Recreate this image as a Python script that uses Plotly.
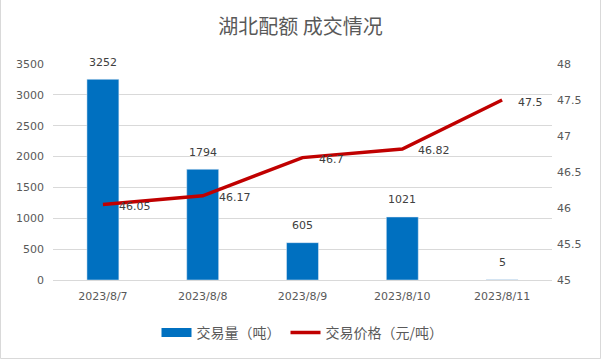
import plotly.graph_objects as go

dates = ["2023/8/7", "2023/8/8", "2023/8/9", "2023/8/10", "2023/8/11"]
volume = [3252, 1794, 605, 1021, 5]
price = [46.05, 46.17, 46.7, 46.82, 47.5]

W, H = 601, 359
L, R, T, B = 53, 49, 64, 79
pw, ph = W - L - R, H - T - B

BLUE, RED = "#0070C0", "#C00000"

fig = go.Figure()
fig.add_trace(go.Bar(
    x=dates, y=volume, name="交易量（吨）", marker_color=BLUE, showlegend=False,
))
# legend swatch for bars (rectangle-like)
fig.add_trace(go.Scatter(
    x=[None], y=[None], name="交易量（吨）", mode="lines",
    line=dict(color=BLUE, width=9),
))
fig.add_trace(go.Scatter(
    x=dates, y=price, name="交易价格（元/吨）", yaxis="y2", mode="lines",
    line=dict(color=RED, width=3.5),
))

tick_font = dict(family="DejaVu Sans, sans-serif", size=11, color="#595959")
lab_font = dict(family="DejaVu Sans, sans-serif", size=11, color="#404040")

for d, v in zip(dates, volume):
    fig.add_annotation(x=d, y=v, xref="x", yref="y", text=str(v), showarrow=False,
                       yanchor="middle", yshift=17, font=lab_font)
for d, p in zip(dates, price):
    fig.add_annotation(x=d, y=p, xref="x", yref="y2", text=str(p), showarrow=False,
                       xanchor="left", xshift=14, yshift=-2, font=lab_font)

fig.update_layout(
    width=W, height=H,
    margin=dict(l=L, r=R, t=T, b=B, autoexpand=False),
    paper_bgcolor="white", plot_bgcolor="white",
    font=dict(family="DejaVu Sans, sans-serif", color="#595959", size=11),
    title=dict(text="湖北配额 成交情况", x=0.5, xanchor="center", y=1 - 27 / H, yanchor="middle",
               font=dict(size=20, color="#595959", family="Noto Sans CJK SC, sans-serif")),
    bargap=0.68,
    xaxis=dict(showgrid=False, showline=True, linecolor="#D9D9D9", ticks="",
               tickfont=tick_font, automargin=False, ticklabelstandoff=6),
    yaxis=dict(range=[0, 3500], dtick=500, showgrid=True, gridcolor="#D9D9D9",
               zeroline=False, tickfont=tick_font, ticklabelstandoff=8, automargin=False),
    yaxis2=dict(range=[45, 48], dtick=0.5, overlaying="y", side="right", showgrid=False,
                zeroline=False, tickfont=tick_font, automargin=False, ticklabelstandoff=4),
    legend=dict(orientation="h", x=0.5, xanchor="center", y=-(333 - 280) / ph, yanchor="middle",
                itemwidth=30, tracegroupgap=0,
                font=dict(size=14, color="#595959", family="Noto Sans CJK SC, sans-serif")),
    showlegend=True,
)
fig.add_shape(type="rect", xref="paper", yref="paper",
              x0=(0.5 - L) / pw, x1=(W - 0.5 - L) / pw,
              y0=-(H - 0.5 - T - ph) / ph, y1=(H - T - 0.5) / ph,
              line=dict(color="#D9D9D9", width=1), layer="below")
fig.write_html("out.html", config={"displayModeBar": False},
               post_script="document.body.style.margin='0';document.body.style.overflow='hidden';")
